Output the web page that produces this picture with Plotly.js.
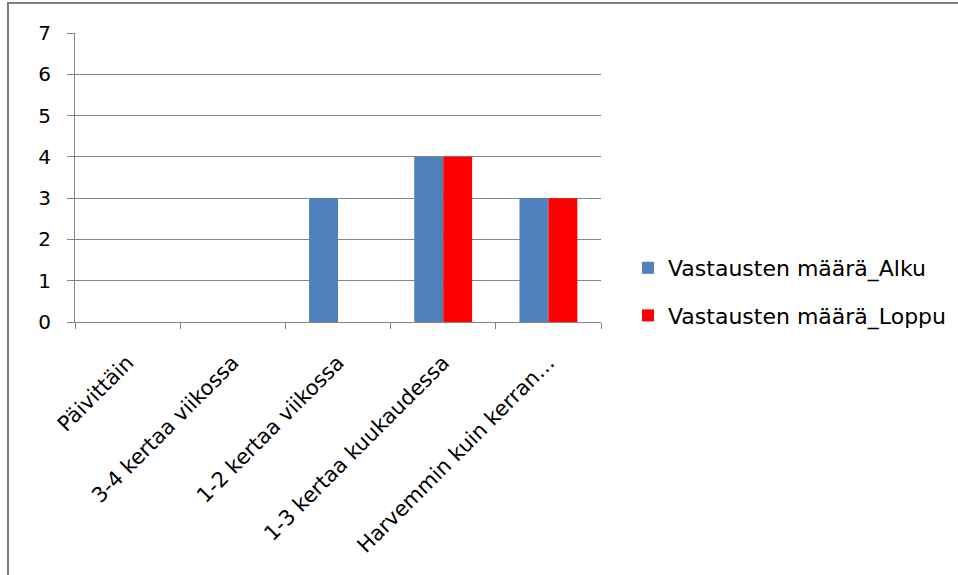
<!DOCTYPE html>
<html>
<head>
<meta charset="utf-8">
<script src="https://cdn.plot.ly/plotly-3.0.1.min.js"></script>
<style>html,body{margin:0;padding:0;background:#fff;}#chart{width:958px;height:575px;}</style>
</head>
<body>
<div id="chart"></div>
<script>
const categories = ["Päivittäin", "3-4 kertaa viikossa", "1-2 kertaa viikossa", "1-3 kertaa kuukaudessa", "Harvemmin kuin kerran…"];
const alku = [0, 0, 3, 4, 3];
const loppu = [0, 0, 0, 4, 3];
const seriesNames = ["Vastausten määrä_Alku", "Vastausten määrä_Loppu"];
const yTicks = [0, 1, 2, 3, 4, 5, 6, 7];

const W = 958, H = 575, L = 75, R = 357, T = 33, B = 253;
const pw = W - L - R, ph = H - T - B;
const px = v => (v - L) / pw;
const py = v => 1 - (v - T) / ph;

const font = "'DejaVu Sans', sans-serif";

const traces = [
  {type: "bar", x: categories, y: alku, name: seriesNames[0], legendgroup: "a",
   marker: {color: "#4F81BD", line: {width: 0}}},
  {type: "bar", x: categories, y: loppu, name: seriesNames[1], legendgroup: "b",
   marker: {color: "#FF0000", line: {width: 0}}}
];

const layout = {
  width: W, height: H,
  margin: {l: L, r: R, t: T, b: B, pad: 0, autoexpand: false},
  paper_bgcolor: "#ffffff", plot_bgcolor: "#ffffff",
  font: {family: font, color: "#000000", size: 21},
  barmode: "group", bargap: 0.45, bargroupgap: 0,
  showlegend: true,
  legend: {x: px(628), y: py(292), xanchor: "left", yanchor: "middle",
           font: {size: 22, family: font, color: "#000"}, tracegroupgap: 16,
           itemwidth: 30, bgcolor: "rgba(0,0,0,0)"},
  xaxis: {type: "category", tickangle: -45, showgrid: false, showline: true,
          linecolor: "#868686", linewidth: 1, ticks: "outside", tickson: "boundaries",
          ticklen: 6, tickcolor: "#868686", tickfont: {size: 21, family: font},
          ticklabelstandoff: 19,
          zeroline: false, fixedrange: true, automargin: false},
  yaxis: {range: [0, 7], tickvals: yTicks, ticktext: yTicks.map(String),
          showgrid: true, gridcolor: "#868686", gridwidth: 1,
          showline: true, linecolor: "#868686", linewidth: 1,
          ticks: "outside", ticklen: 7, tickcolor: "#868686",
          ticklabelstandoff: 12, tickfont: {size: 20, family: font},
          zeroline: false, fixedrange: true, automargin: false},
  shapes: [
    {type: "rect", xref: "paper", yref: "paper",
     x0: px(8), x1: px(W + 10), y0: py(H + 10), y1: py(3),
     line: {color: "#7f7f7f", width: 2}, fillcolor: "rgba(0,0,0,0)", layer: "below"}
  ]
};

Plotly.newPlot("chart", traces, layout, {displayModeBar: false, staticPlot: true});
</script>
</body>
</html>
